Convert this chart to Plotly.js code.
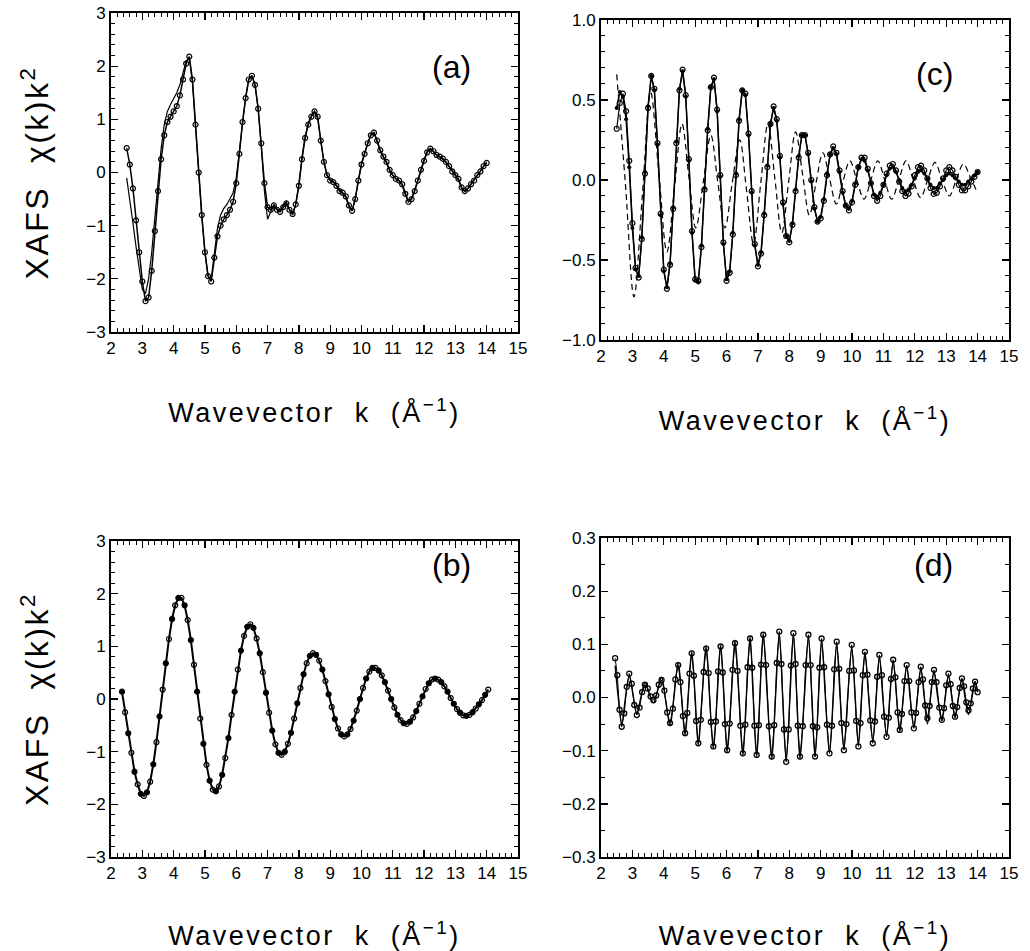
<!DOCTYPE html>
<html>
<head>
<meta charset="utf-8">
<script src="https://cdn.plot.ly/plotly-3.0.1.min.js"></script>
<style>
html,body{margin:0;padding:0;background:#fff;}
#chart{width:1030px;height:951px;}
#chart text[class*="title"]{letter-spacing:2.5px;}
</style>
</head>
<body>
<div id="chart"></div>
<script>
// ---------- data ----------
const kA = [2.5,2.6,2.7,2.8,2.9,3.0,3.1,3.2,3.3,3.4,3.5,3.6,3.7,3.8,3.9,4.0,4.1,4.2,4.3,4.4,4.5,4.6,4.7,4.8,4.9,5.0,5.1,5.2,5.3,5.4,5.5,5.6,5.7,5.8,5.9,6.0,6.1,6.2,6.3,6.4,6.5,6.6,6.7,6.8,6.9,7.0,7.1,7.2,7.3,7.4,7.5,7.6,7.7,7.8,7.9,8.0,8.1,8.2,8.3,8.4,8.5,8.6,8.7,8.8,8.9,9.0,9.1,9.2,9.3,9.4,9.5,9.6,9.7,9.8,9.9,10.0,10.1,10.2,10.3,10.4,10.5,10.6,10.7,10.8,10.9,11.0,11.1,11.2,11.3,11.4,11.5,11.6,11.7,11.8,11.9,12.0,12.1,12.2,12.3,12.4,12.5,12.6,12.7,12.8,12.9,13.0,13.1,13.2,13.3,13.4,13.5,13.6,13.7,13.8,13.9,14.0];

// panel (a): experiment (open circles) and fit (solid line)
const aData = [0.46,0.15,-0.3,-0.9,-1.5,-2.05,-2.42,-2.35,-1.85,-1.1,
-0.35,0.25,0.7,0.95,1.05,1.15,1.25,1.45,1.75,2.05,
2.18,1.75,0.9,0.0,-0.8,-1.5,-1.95,-2.05,-1.6,-1.2,
-1.0,-0.88,-0.8,-0.7,-0.55,-0.2,0.35,0.95,1.4,1.75,
1.82,1.65,1.2,0.55,-0.2,-0.65,-0.7,-0.62,-0.7,-0.74,
-0.65,-0.58,-0.7,-0.78,-0.6,-0.25,0.25,0.65,0.9,1.05,
1.15,1.05,0.6,0.2,-0.05,-0.15,-0.18,-0.25,-0.35,-0.38,
-0.45,-0.62,-0.72,-0.5,-0.15,0.15,0.35,0.55,0.7,0.75,
0.6,0.42,0.3,0.2,0.05,-0.05,-0.12,-0.15,-0.22,-0.4,
-0.55,-0.5,-0.35,-0.15,0.05,0.22,0.38,0.45,0.4,0.33,
0.3,0.26,0.2,0.12,0.02,-0.05,-0.12,-0.28,-0.35,-0.3,
-0.22,-0.15,-0.05,0.02,0.12,0.18];
const aFit = [-0.1,-0.5,-0.95,-1.4,-1.85,-2.2,-2.28,-2.0,-1.5,-0.85,
-0.15,0.45,0.9,1.15,1.28,1.38,1.5,1.65,1.88,2.1,
2.15,1.7,0.85,-0.05,-0.85,-1.5,-1.95,-2.0,-1.5,-1.05,
-0.8,-0.68,-0.6,-0.5,-0.38,-0.1,0.4,0.98,1.42,1.76,
1.82,1.65,1.2,0.5,-0.35,-0.88,-0.75,-0.6,-0.68,-0.72,
-0.62,-0.55,-0.7,-0.8,-0.6,-0.22,0.28,0.68,0.93,1.07,
1.15,1.02,0.6,0.2,-0.05,-0.13,-0.17,-0.24,-0.33,-0.38,
-0.47,-0.64,-0.72,-0.5,-0.13,0.17,0.37,0.56,0.72,0.75,
0.58,0.4,0.29,0.18,0.04,-0.06,-0.12,-0.16,-0.24,-0.42,
-0.55,-0.48,-0.33,-0.13,0.07,0.24,0.4,0.45,0.39,0.32,
0.29,0.25,0.19,0.11,0.01,-0.07,-0.15,-0.3,-0.36,-0.3,
-0.21,-0.14,-0.05,0.03,0.12,0.2];

// panel (b): filtered first shell
const kB = [2.35,2.45,2.55,2.65,2.75,2.85,2.95,3.05,3.15,3.25,3.35,3.45,3.55,3.65,3.75,3.85,3.95,4.05,4.15,4.25,4.35,4.45,4.55,4.65,4.75,4.85,4.95,5.05,5.15,5.25,5.35,5.45,5.55,5.65,5.75,5.85,5.95,6.05,6.15,6.25,6.35,6.45,6.55,6.65,6.75,6.85,6.95,7.05,7.15,7.25,7.35,7.45,7.55,7.65,7.75,7.85,7.95,8.05,8.15,8.25,8.35,8.45,8.55,8.65,8.75,8.85,8.95,9.05,9.15,9.25,9.35,9.45,9.55,9.65,9.75,9.85,9.95,10.05,10.15,10.25,10.35,10.45,10.55,10.65,10.75,10.85,10.95,11.05,11.15,11.25,11.35,11.45,11.55,11.65,11.75,11.85,11.95,12.05,12.15,12.25,12.35,12.45,12.55,12.65,12.75,12.85,12.95,13.05,13.15,13.25,13.35,13.45,13.55,13.65,13.75,13.85,13.95,14.05];
const bData = [0.14,-0.25,-0.65,-1.02,-1.38,-1.62,-1.8,-1.84,-1.77,-1.57,-1.24,-0.82,-0.33,0.18,0.68,1.14,1.52,1.78,1.92,1.92,1.78,1.50,1.12,0.65,0.14,-0.37,-0.85,-1.25,-1.55,-1.72,-1.75,-1.66,-1.44,-1.12,-0.74,-0.30,0.14,0.56,0.92,1.20,1.37,1.42,1.35,1.15,0.87,0.51,0.12,-0.26,-0.60,-0.86,-1.02,-1.06,-1.0,-0.85,-0.64,-0.37,-0.08,0.21,0.47,0.68,0.82,0.87,0.84,0.73,0.56,0.34,0.09,-0.15,-0.38,-0.56,-0.67,-0.71,-0.67,-0.57,-0.41,-0.22,0.0,0.21,0.39,0.52,0.59,0.59,0.54,0.45,0.32,0.16,0.0,-0.16,-0.30,-0.40,-0.46,-0.47,-0.43,-0.35,-0.23,-0.09,0.05,0.19,0.30,0.37,0.39,0.37,0.32,0.24,0.14,0.02,-0.09,-0.19,-0.26,-0.31,-0.32,-0.30,-0.25,-0.18,-0.10,-0.02,0.08,0.18];

// panel (c): data (open), fit (filled, solid), comparison (dashed)
const cData = [0.32,0.48,0.54,0.43,0.12,-0.27,-0.55,-0.61,-0.37,0.04,
0.45,0.65,0.57,0.23,-0.21,-0.56,-0.68,-0.53,-0.18,0.23,
0.56,0.69,0.53,0.13,-0.32,-0.62,-0.63,-0.42,-0.06,0.31,
0.58,0.64,0.44,0.03,-0.39,-0.63,-0.58,-0.34,0.03,0.37,
0.56,0.54,0.29,-0.07,-0.40,-0.54,-0.46,-0.22,0.08,0.35,
0.46,0.38,0.15,-0.14,-0.35,-0.39,-0.28,-0.07,0.14,0.28,
0.28,0.17,0.0,-0.17,-0.26,-0.24,-0.13,0.03,0.16,0.21,
0.17,0.06,-0.07,-0.16,-0.19,-0.14,-0.03,0.08,0.14,0.14,
0.07,-0.02,-0.10,-0.13,-0.10,-0.03,0.04,0.09,0.10,0.06,
-0.01,-0.07,-0.10,-0.085,-0.04,0.03,0.08,0.09,0.06,0.01,
-0.05,-0.087,-0.08,-0.04,0.01,0.06,0.08,0.06,0.02,-0.03,
-0.065,-0.065,-0.04,-0.01,0.02,0.05];
const cFit = [0.45,0.55,0.52,0.38,0.08,-0.3,-0.56,-0.6,-0.36,0.05,
0.46,0.65,0.56,0.22,-0.22,-0.57,-0.67,-0.52,-0.17,0.24,
0.57,0.68,0.52,0.12,-0.33,-0.63,-0.64,-0.41,-0.05,0.32,
0.58,0.63,0.43,0.02,-0.4,-0.62,-0.57,-0.33,0.04,0.38,
0.56,0.53,0.28,-0.08,-0.41,-0.53,-0.45,-0.21,0.09,0.35,
0.45,0.37,0.14,-0.15,-0.35,-0.38,-0.27,-0.06,0.15,0.28,
0.28,0.16,-0.01,-0.18,-0.26,-0.23,-0.12,0.04,0.16,0.2,
0.16,0.05,-0.08,-0.16,-0.18,-0.13,-0.02,0.08,0.13,0.12,
0.06,-0.02,-0.09,-0.11,-0.08,-0.03,0.03,0.07,0.08,0.05,
0.0,-0.05,-0.07,-0.06,-0.03,0.01,0.05,0.06,0.04,0.01,
-0.03,-0.05,-0.05,-0.02,0.0,0.03,0.04,0.03,0.01,-0.01,
-0.03,-0.03,-0.01,0.01,0.03,0.05];
const cDashK = [2.5,2.78,3.05,3.32,3.58,3.84,4.1,4.34,4.58,4.8,5.02,5.26,5.5,5.72,5.95,6.18,6.42,6.64,6.86,7.09,7.32,7.54,7.76,7.98,8.2,8.42,8.64,8.85,9.07,9.28,9.5,9.71,9.93,10.15,10.38,10.6,10.82,11.04,11.26,11.49,11.72,11.95,12.18,12.41,12.64,12.87,13.1,13.32,13.55,13.78,14.0];
const cDashV = [0.66,-0.03,-0.73,-0.09,0.55,0.05,-0.45,-0.05,0.35,0.02,-0.3,-0.01,0.28,-0.01,-0.3,-0.02,0.25,-0.07,-0.4,-0.02,0.35,0.01,-0.33,-0.01,0.3,0.04,-0.22,-0.02,0.17,0.01,-0.15,-0.01,0.12,0.0,-0.12,0.0,0.12,0.0,-0.12,0.0,0.12,0.0,-0.11,0.0,0.11,0.0,-0.1,0.0,0.1,0.01,-0.08];

// panel (d): outer shell contribution
const kD = [2.45,2.52,2.59,2.66,2.74,2.82,2.9,2.98,3.06,3.14,3.23,3.31,3.4,3.49,3.58,3.67,3.76,3.84,3.93,4.02,4.11,4.2,4.29,4.37,4.46,4.53,4.61,4.68,4.75,4.82,4.89,4.96,5.03,5.1,5.18,5.27,5.35,5.43,5.5,5.58,5.66,5.73,5.81,5.88,5.95,6.02,6.1,6.19,6.27,6.35,6.44,6.52,6.6,6.67,6.75,6.82,6.89,6.96,7.03,7.1,7.17,7.26,7.35,7.44,7.52,7.6,7.68,7.75,7.83,7.9,7.98,8.05,8.13,8.2,8.27,8.34,8.43,8.52,8.61,8.68,8.75,8.82,8.89,8.96,9.03,9.11,9.2,9.28,9.36,9.43,9.51,9.59,9.66,9.74,9.82,9.91,9.99,10.06,10.13,10.2,10.27,10.34,10.41,10.49,10.58,10.66,10.73,10.8,10.87,10.95,11.02,11.1,11.17,11.24,11.31,11.38,11.45,11.52,11.59,11.67,11.74,11.82,11.89,11.97,12.04,12.12,12.19,12.26,12.33,12.4,12.47,12.54,12.61,12.69,12.78,12.86,12.93,13.0,13.07,13.14,13.21,13.28,13.35,13.43,13.5,13.57,13.64,13.71,13.78,13.85,13.92,14.0];
const dData = [0.074,0.042,-0.023,-0.055,-0.030,0.020,0.045,0.026,-0.014,-0.033,-0.019,0.010,0.024,0.017,0.002,-0.005,0.004,0.024,0.033,0.013,-0.028,-0.048,-0.021,0.034,0.061,0.029,-0.035,-0.067,-0.029,0.045,0.083,0.041,-0.044,-0.086,-0.042,0.048,0.092,0.046,-0.046,-0.092,-0.045,0.049,0.096,0.047,-0.050,-0.099,-0.049,0.052,0.102,0.050,-0.053,-0.105,-0.051,0.057,0.111,0.056,-0.053,-0.108,-0.052,0.062,0.118,0.061,-0.054,-0.111,-0.052,0.065,0.124,0.063,-0.060,-0.121,-0.060,0.060,0.121,0.063,-0.053,-0.111,-0.054,0.061,0.118,0.061,-0.054,-0.111,-0.056,0.056,0.111,0.057,-0.051,-0.105,-0.053,0.053,0.105,0.054,-0.048,-0.099,-0.050,0.050,0.099,0.051,-0.044,-0.092,-0.048,0.042,0.086,0.043,-0.043,-0.086,-0.045,0.039,0.080,0.042,-0.036,-0.074,-0.038,0.035,0.071,0.038,-0.028,-0.061,-0.031,0.031,0.061,0.031,-0.028,-0.058,-0.029,0.029,0.058,0.034,-0.015,-0.039,-0.016,0.029,0.052,0.029,-0.019,-0.042,-0.020,0.023,0.045,0.025,-0.016,-0.036,-0.018,0.018,0.036,0.021,-0.009,-0.024,-0.011,0.017,0.030,0.010];
const kDfit = [2.45,2.55,2.66,2.78,2.9,3.02,3.14,3.27,3.4,3.53,3.67,3.8,3.93,4.06,4.2,4.33,4.46,4.57,4.68,4.78,4.89,5.0,5.1,5.22,5.35,5.46,5.58,5.7,5.81,5.92,6.02,6.15,6.27,6.4,6.52,6.63,6.75,6.85,6.96,7.06,7.17,7.3,7.44,7.56,7.68,7.79,7.9,8.02,8.13,8.24,8.34,8.48,8.61,8.72,8.82,8.93,9.03,9.15,9.28,9.4,9.51,9.62,9.74,9.86,9.99,10.1,10.2,10.3,10.41,10.53,10.66,10.77,10.87,10.98,11.1,11.2,11.31,11.42,11.52,11.63,11.74,11.85,11.97,12.08,12.19,12.3,12.4,12.5,12.61,12.73,12.86,12.97,13.07,13.18,13.28,13.39,13.5,13.6,13.71,13.82,13.92,14.0];
const dFit = [0.06,0.0,-0.05,0.0,0.04,0.005,-0.03,0.0,0.028,0.008,-0.01,0.012,0.038,-0.005,-0.052,0.004,0.066,0.0,-0.072,0.005,0.086,0.0,-0.09,0.002,0.098,0.0,-0.096,0.0,0.1,0.0,-0.104,0.0,0.108,0.0,-0.11,0.0,0.114,0.0,-0.112,0.0,0.12,0.0,-0.116,0.0,0.12,0.0,-0.118,0.0,0.118,0.0,-0.116,0.0,0.114,0.0,-0.112,0.0,0.108,0.0,-0.104,0.0,0.1,0.0,-0.096,0.0,0.092,0.0,-0.088,0.0,0.084,0.0,-0.08,0.0,0.076,0.0,-0.072,0.0,0.068,0.0,-0.064,0.0,0.06,0.0,-0.056,0.0,0.053,0.0,-0.05,0.0,0.047,0.0,-0.044,0.0,0.041,0.0,-0.038,0.0,0.035,0.0,-0.032,0.0,0.03,0.01];

const panelLabels = ['(a)','(b)','(c)','(d)'];
const xTitle = 'Wavevector\u00a0\u00a0k\u00a0\u00a0(Å<sup>−1</sup>)';
const yTitle = 'XAFS\u00a0\u00a0χ(k)k<sup>2</sup>';

// ---------- styling ----------
const FONT = 'Liberation Sans, Arial, sans-serif';
function xax(domain, anchor){
  return {domain:domain, anchor:anchor, range:[2,15], dtick:1, tick0:0,
    ticks:'inside', ticklen:7, tickwidth:1.3, tickcolor:'#000',
    minor:{dtick:0.2, ticks:'inside', ticklen:4, tickwidth:1, tickcolor:'#000'},
    mirror:'allticks', showline:true, linecolor:'#000', linewidth:2,
    showgrid:false, zeroline:false, tickfont:{family:FONT,size:17,color:'#000'},
    title:{text:xTitle, font:{family:FONT,size:27,color:'#000'}, standoff:46}, automargin:false};
}
function yax(domain, anchor, range, dtick, minorDt, fmt, withTitle){
  const o = {domain:domain, anchor:anchor, range:range, dtick:dtick, tick0:0,
    ticks:'inside', ticklen:7, tickwidth:1.3, tickcolor:'#000',
    minor:{dtick:minorDt, ticks:'inside', ticklen:4, tickwidth:1, tickcolor:'#000'},
    mirror:'allticks', showline:true, linecolor:'#000', linewidth:2,
    showgrid:false, zeroline:false, tickfont:{family:FONT,size:17,color:'#000'},
    automargin:false};
  if(fmt) o.tickformat = fmt;
  if(withTitle) o.title = {text:yTitle, font:{family:FONT,size:32,color:'#000'}, standoff:28};
  return o;
}

const openM = {symbol:'circle-open', size:5, color:'#000', line:{width:1.2,color:'#000'}};
const fillM = {symbol:'circle', size:4, color:'#000'};
function mixM(arr){ return {symbol:arr.map((_,i)=>i%2?'circle-open':'circle'), size:5, color:'#000', line:{width:1.2,color:'#000'}}; }

const traces = [
  {x:kA, y:aFit, xaxis:'x', yaxis:'y', mode:'lines', line:{color:'#000',width:1.2}, name:'fit (a)'},
  {x:kA, y:aData, xaxis:'x', yaxis:'y', mode:'lines+markers', line:{color:'#000',width:1.5}, marker:openM, name:'data (a)'},

  {x:kA, y:cData, xaxis:'x2', yaxis:'y2', mode:'lines+markers', line:{color:'#000',width:1.2}, marker:openM, name:'data (c)'},
  {x:kA, y:cFit, xaxis:'x2', yaxis:'y2', mode:'lines+markers', line:{color:'#000',width:1.5}, marker:fillM, name:'fit (c)'},
  {x:cDashK, y:cDashV, xaxis:'x2', yaxis:'y2', mode:'lines', line:{color:'#000',width:1.2,dash:'6px,4px',shape:'spline'}, name:'model (c)'},

  {x:kB, y:bData, xaxis:'x3', yaxis:'y3', mode:'lines+markers', line:{color:'#000',width:2}, marker:mixM(kB), name:'(b)'},

  {x:kDfit, y:dFit, xaxis:'x4', yaxis:'y4', mode:'lines', line:{color:'#000',width:1.4,shape:'spline'}, name:'fit (d)'},
  {x:kD, y:dData, xaxis:'x4', yaxis:'y4', mode:'lines+markers', line:{color:'#000',width:1.0}, marker:{symbol:'circle-open', size:5, color:'#000', line:{width:1.3,color:'#000'}}, name:'data (d)'}
];

const lblFont = {family:FONT,size:32,color:'#000'};
const layout = {
  width:1030, height:951, margin:{l:0,r:0,t:0,b:0},
  paper_bgcolor:'#fff', plot_bgcolor:'#fff', showlegend:false,
  font:{family:FONT, color:'#000'},
  xaxis: xax([0.1078,0.5029],'y'),
  yaxis: yax([0.6509,0.9863],'x',[-3,3],1,0.2,null,true),
  xaxis2: xax([0.5835,0.9796],'y2'),
  yaxis2: yax([0.6425,0.9790],'x2',[-1,1],0.5,0.1,'.1f',false),
  xaxis3: xax([0.1078,0.5029],'y3'),
  yaxis3: yax([0.0988,0.4311],'x3',[-3,3],1,0.2,null,true),
  xaxis4: xax([0.5835,0.9796],'y4'),
  yaxis4: yax([0.0988,0.4343],'x4',[-0.3,0.3],0.1,0.05,'.1f',false),
  annotations:[
    {text:panelLabels[0], x:12.88, y:1.98, xref:'x', yref:'y', showarrow:false, font:lblFont},
    {text:panelLabels[1], x:12.88, y:2.55, xref:'x3', yref:'y3', showarrow:false, font:lblFont},
    {text:panelLabels[2], x:12.64, y:0.66, xref:'x2', yref:'y2', showarrow:false, font:lblFont},
    {text:panelLabels[3], x:12.58, y:0.25, xref:'x4', yref:'y4', showarrow:false, font:lblFont}
  ]
};

Plotly.newPlot('chart', traces, layout, {staticPlot:true, displayModeBar:false});
</script>
</body>
</html>
